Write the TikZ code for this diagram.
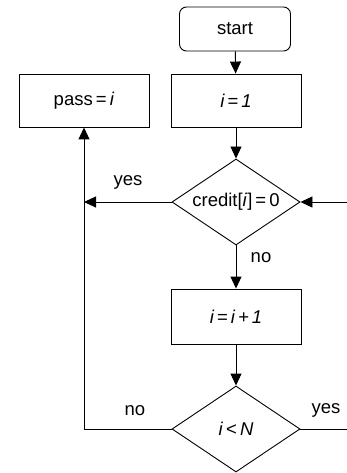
\documentclass[tikz,border=0pt]{standalone}
\usepackage{fontspec}
\setmainfont{Liberation Sans}
\usetikzlibrary{shapes.geometric,arrows.meta}
\begin{document}
\begin{tikzpicture}[x=1pt,y=-1pt,
  font=\fontsize{18.5}{21}\selectfont,
  every path/.style={line width=0.9pt},
  box/.style={draw,rectangle,minimum width=130pt,minimum height=53pt,inner sep=0pt},
  startbox/.style={draw,rectangle,rounded corners=7pt,minimum width=111pt,minimum height=44pt,inner sep=0pt},
  decision/.style={draw,diamond,shape aspect=1.49,minimum width=128pt,minimum height=86pt,inner sep=0pt},
  arr/.style={-{Triangle[length=12pt,width=11pt]}},
  lab/.style={inner sep=0pt}]
\useasboundingbox (0,0) rectangle (347,473);
\node[startbox] (start) at (235,29) {start};
\node[box] (i1) at (236,100.5) {\itshape i\,=\,1};
\node[box] (pass) at (84,100.5) {pass\,=\,\textit{i}};
\node[decision] (credit) at (236,202) {credit[\textit{i}]\,=\,0};
\node[box,minimum height=55pt] (inc) at (236,316.5) {\itshape i\,=\,i\,+\,1};
\node[decision] (lt) at (236,429) {\textit{i}\,<\,\textit{N}};
\coordinate (yescorner) at (84,202);
\coordinate (nocorner) at (84,429);
\coordinate (rightout) at (347,429);
\coordinate (rightin) at (347,202);
\draw[arr] (start) -- (i1);
\draw[arr] (i1) -- (credit);
\draw[arr] (credit.west) -- (yescorner);
\draw[arr] (credit.south) -- (inc.north);
\draw[arr] (inc) -- (lt);
\draw[arr] (lt.west) -- (nocorner) -- (pass.south);
\draw (lt.east) -- (rightout);
\draw[arr] (rightin) -- (credit.east);
\node[lab] (yes1) at (128,182) {yes};
\node[lab] (no1) at (261,258) {no};
\node[lab] (no2) at (135,411) {no};
\node[lab] (yes2) at (326,410) {yes};
\end{tikzpicture}
\end{document}
